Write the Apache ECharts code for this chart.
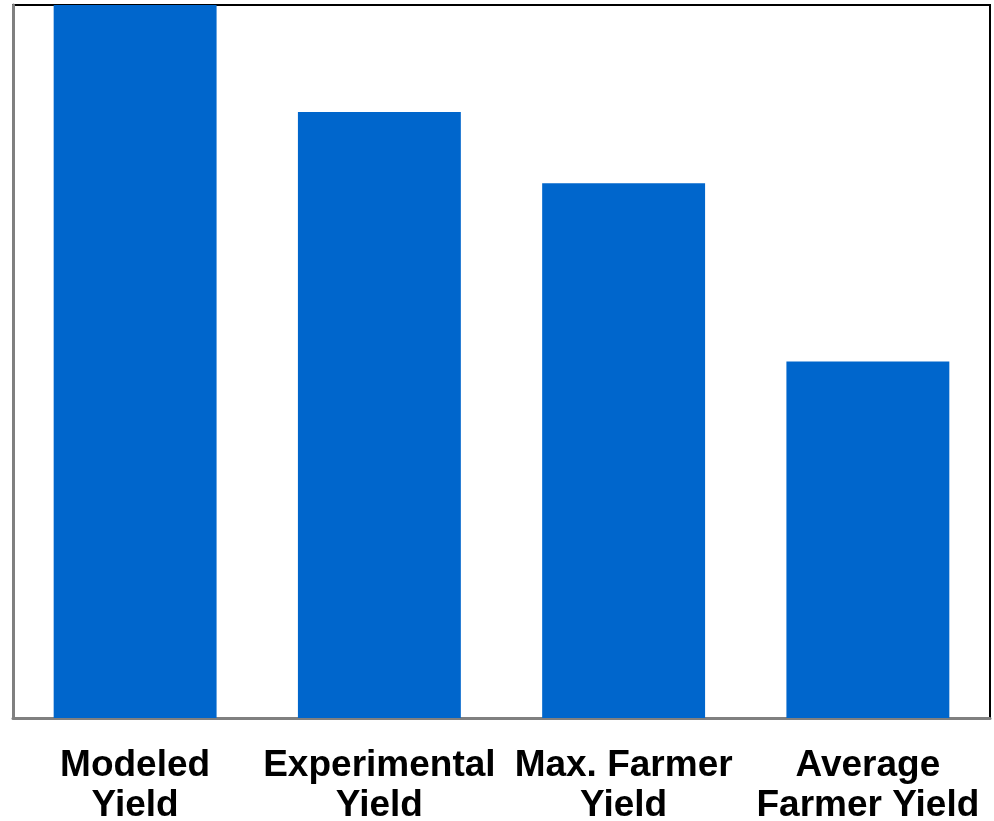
<!DOCTYPE html>
<html>
<head>
<meta charset="utf-8">
<script src="https://cdn.jsdelivr.net/npm/echarts@6/dist/echarts.min.js"></script>
<style>
  html, body { margin: 0; padding: 0; background: #fff; }
  #chart { width: 994px; height: 821px; }
</style>
</head>
<body>
<div id="chart"></div>
<script>
// Yield levels, relative to the modeled yield
const categories = ['Modeled\nYield', 'Experimental\nYield', 'Max. Farmer\nYield', 'Average\nFarmer Yield'];
const yieldValues = [100, 85, 75, 50];

const chart = echarts.init(document.getElementById('chart'), null, { renderer: 'canvas' });

chart.setOption({
  animation: false,
  backgroundColor: '#ffffff',
  grid: {
    left: 13, right: 4, top: 5, bottom: 103,
    outerBoundsMode: 'none',
    containLabel: false,
    show: true,
    borderColor: '#000000',
    borderWidth: 2,
    backgroundColor: 'transparent'
  },
  xAxis: {
    type: 'category',
    data: categories,
    axisLine: { show: true, lineStyle: { color: '#808080', width: 3 } },
    axisTick: { show: false },
    axisLabel: {
      color: '#000000',
      fontFamily: 'Liberation Sans, Arial, sans-serif',
      fontWeight: 'bold',
      fontSize: 37,
      lineHeight: 40,
      margin: 28,
      interval: 0
    }
  },
  yAxis: {
    type: 'value',
    min: 0,
    max: 100,
    axisLine: { show: true, lineStyle: { color: '#808080', width: 3 } },
    axisTick: { show: false },
    axisLabel: { show: false },
    splitLine: { show: false }
  },
  series: [{
    type: 'bar',
    data: yieldValues,
    barWidth: '66.7%',
    itemStyle: { color: '#0066CC' }
  }]
});
</script>
</body>
</html>
